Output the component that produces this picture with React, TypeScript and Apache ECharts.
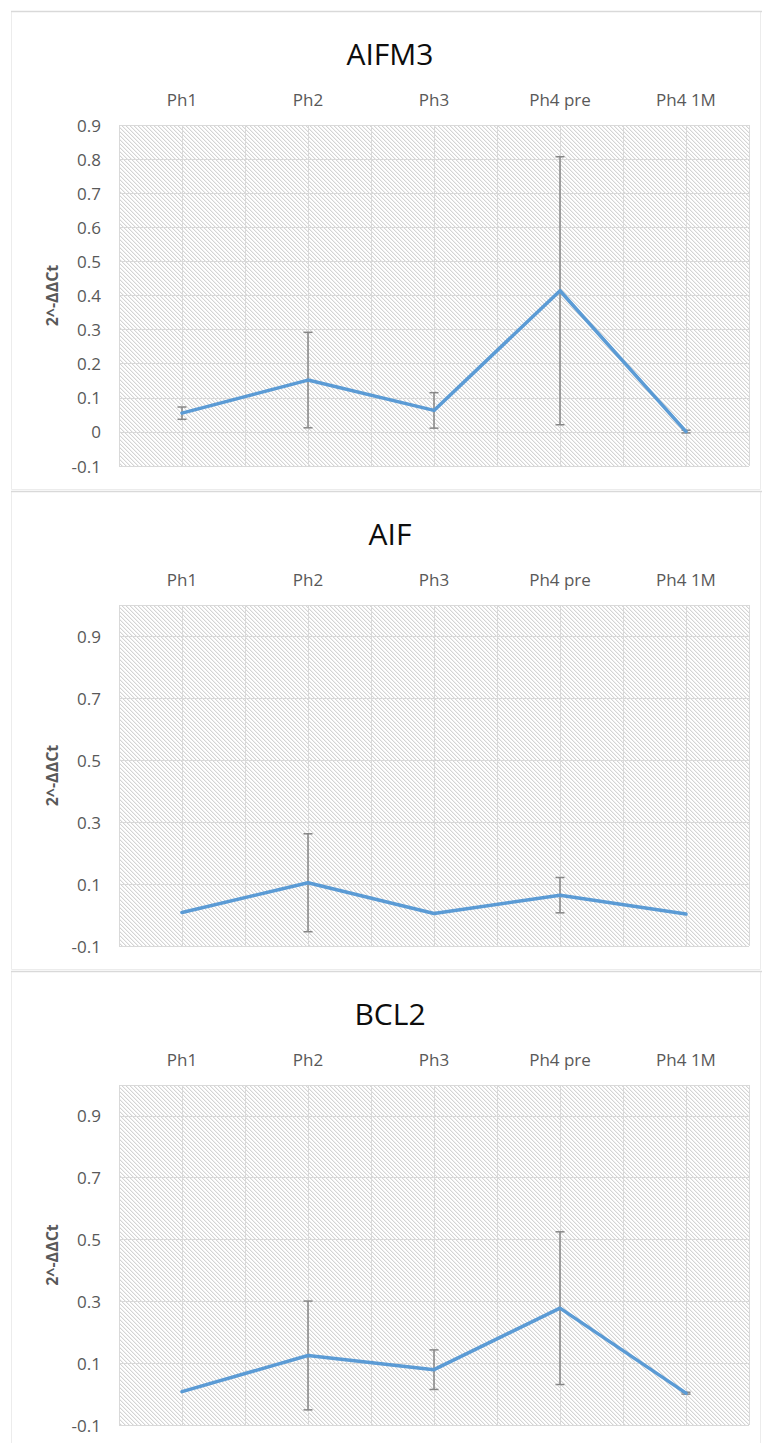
import React, { useEffect, useRef } from 'react';
import * as echarts from 'echarts';

const categories = ['Ph1', 'Ph2', 'Ph3', 'Ph4 pre', 'Ph4 1M'];
const titles = ['AIFM3', 'AIF', 'BCL2'];
const yAxisName = '2^-ΔΔCt';

const aifm3Mean = [0.055, 0.152, 0.063, 0.414, 0.001];
const aifm3Err = [0.018, 0.14, 0.052, 0.393, 0.004];
const aifMean = [0.008, 0.104, 0.005, 0.064, 0.003];
const aifErr = [0, 0.158, 0, 0.057, 0];
const bcl2Mean = [0.008, 0.125, 0.079, 0.278, 0.003];
const bcl2Err = [0, 0.176, 0.064, 0.247, 0.003];

const yMins = [-0.1, -0.1, -0.1];
const yMaxs = [0.9, 1.0, 1.0];
const yIntervals = [0.1, 0.2, 0.2];

const means = [aifm3Mean, aifMean, bcl2Mean];
const errs = [aifm3Err, aifErr, bcl2Err];

const FONT = '"Open Sans", "Noto Sans", sans-serif';
const LABEL_COLOR = '#595959';
const GRID_LINE = '#d9d9d9';

function makeHatch(): string {
  const n = 4;
  const c = document.createElement('canvas');
  c.width = n;
  c.height = n;
  const ctx = c.getContext('2d');
  if (!ctx) return '';
  const img = ctx.createImageData(n, n);
  for (let y = 0; y < n; y++) {
    for (let x = 0; x < n; x++) {
      const k = (y * n + x) * 4;
      let v = 255;
      if (x === y) v = 212;
      else if (x === (y + 1) % n) v = 240;
      img.data[k] = v;
      img.data[k + 1] = v;
      img.data[k + 2] = v;
      img.data[k + 3] = 255;
    }
  }
  ctx.putImageData(img, 0, 0);
  return c.toDataURL();
}

export default function App() {
  const ref = useRef<HTMLDivElement>(null);

  useEffect(() => {
    if (!ref.current) return;
    const chart = echarts.init(ref.current, undefined, { renderer: 'svg' });
    const hatch = makeHatch();

    const panelTops = [11, 491, 971];
    const gridHeights = [341, 341, 340];

    const grids: any[] = [];
    const xAxes: any[] = [];
    const yAxes: any[] = [];
    const series: any[] = [];
    const graphics: any[] = [];

    panelTops.forEach((pt, i) => {
      graphics.push({
        type: 'rect',
        silent: true,
        z: -10,
        shape: { x: 11.5, y: pt + 0.5, width: 749, height: 478 },
        style: { fill: '#ffffff', stroke: '#ececec', lineWidth: 1 },
      });
      graphics.push({
        type: 'line',
        silent: true,
        z: -9,
        shape: { x1: 11, y1: pt + 0.5, x2: 762, y2: pt + 0.5 },
        style: { stroke: '#d9d9d9', lineWidth: 1.5 },
      });
      graphics.push({
        type: 'text',
        x: 390,
        y: pt + 42,
        style: {
          text: titles[i],
          fontSize: 30,
          fontFamily: FONT,
          fill: '#0d0d0d',
          textAlign: 'center',
          textVerticalAlign: 'middle',
        },
      });

      grids.push({
        left: 119,
        right: 13,
        top: pt + 114,
        height: gridHeights[i],
        show: true,
        borderWidth: 0,
        backgroundColor: hatch
          ? { image: hatch, repeat: 'repeat', imageWidth: 4, imageHeight: 4 }
          : '#eeeeee',
      });

      xAxes.push({
        type: 'category',
        gridIndex: i,
        position: 'top',
        data: categories,
        boundaryGap: true,
        axisLine: { show: false },
        axisTick: { show: false },
        splitLine: { show: false },
        axisLabel: { margin: 17, fontSize: 17, color: LABEL_COLOR, fontFamily: FONT },
      });
      xAxes.push({
        type: 'value',
        gridIndex: i,
        min: 0,
        max: 10,
        interval: 1,
        position: 'bottom',
        axisLine: { show: false },
        axisTick: { show: false },
        axisLabel: { show: false },
        splitLine: { show: true, lineStyle: { color: GRID_LINE, width: 1 } },
      });

      yAxes.push({
        type: 'value',
        gridIndex: i,
        min: yMins[i],
        max: yMaxs[i],
        interval: yIntervals[i],
        name: yAxisName,
        nameLocation: 'middle',
        nameGap: 59,
        nameTextStyle: { fontSize: 16, fontWeight: 'bold', color: LABEL_COLOR, fontFamily: FONT },
        axisLine: { show: false },
        axisTick: { show: false },
        axisLabel: {
          margin: 18,
          fontSize: 17,
          color: LABEL_COLOR,
          fontFamily: FONT,
          showMaxLabel: i === 0,
        },
        splitLine: { show: true, lineStyle: { color: GRID_LINE, width: 1 } },
      });

      const errData = categories
        .map((_, j) => [j, means[i][j] - errs[i][j], means[i][j] + errs[i][j], errs[i][j]])
        .filter((d) => d[3] > 0);

      series.push({
        type: 'custom',
        name: titles[i] + ' error',
        xAxisIndex: i * 2,
        yAxisIndex: i,
        z: 2,
        silent: true,
        encode: { x: 0, y: [1, 2] },
        data: errData,
        renderItem: (params: any, api: any) => {
          const x = api.value(0);
          const top = api.coord([x, api.value(2)]);
          const bot = api.coord([x, api.value(1)]);
          const hw = 4.5;
          const style = { stroke: '#878787', lineWidth: 1.5 };
          return {
            type: 'group',
            children: [
              { type: 'line', shape: { x1: top[0], y1: top[1], x2: bot[0], y2: bot[1] }, style },
              { type: 'line', shape: { x1: top[0] - hw, y1: top[1], x2: top[0] + hw, y2: top[1] }, style },
              { type: 'line', shape: { x1: bot[0] - hw, y1: bot[1], x2: bot[0] + hw, y2: bot[1] }, style },
            ],
          };
        },
      });

      series.push({
        type: 'line',
        name: titles[i],
        xAxisIndex: i * 2,
        yAxisIndex: i,
        z: 3,
        data: means[i],
        showSymbol: false,
        symbol: 'none',
        lineStyle: { color: '#5b9bd5', width: 3.5, cap: 'round', join: 'round' },
        itemStyle: { color: '#5b9bd5' },
      });
    });

    chart.setOption({
      animation: false,
      backgroundColor: '#ffffff',
      grid: grids,
      xAxis: xAxes,
      yAxis: yAxes,
      series,
      graphic: { elements: graphics },
    });

    return () => {
      chart.dispose();
    };
  }, []);

  return (
    <div
      ref={ref}
      style={{ position: 'absolute', left: 0, top: 0, width: 762, height: 1443 }}
    />
  );
}
